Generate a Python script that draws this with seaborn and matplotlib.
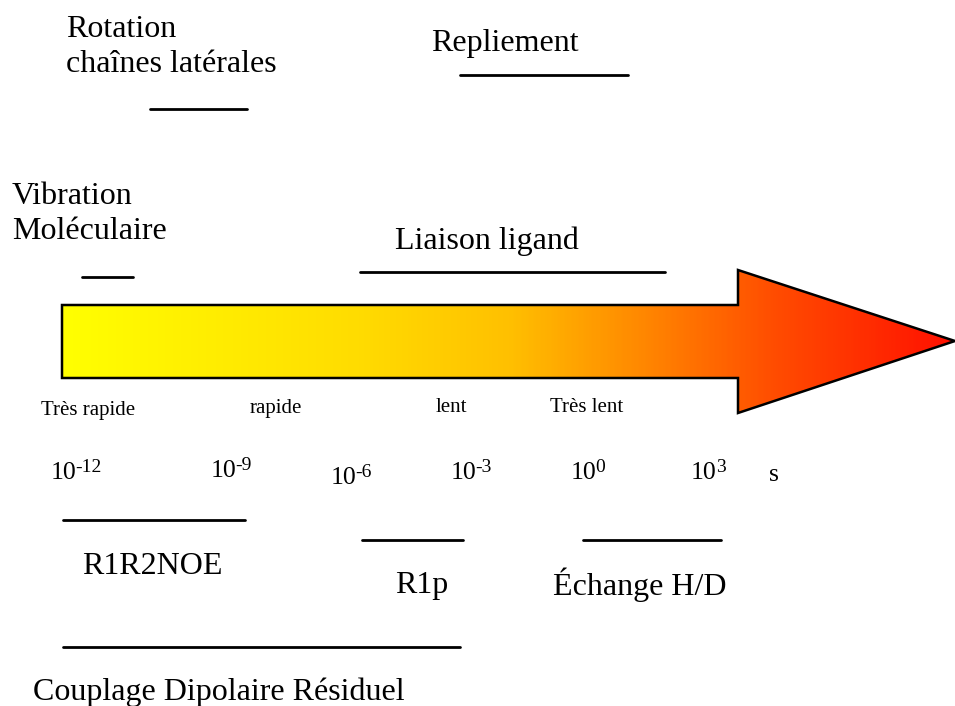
import numpy as np
import pandas as pd
import matplotlib
matplotlib.use("Agg")
import matplotlib.pyplot as plt
from matplotlib.patches import Polygon
from matplotlib.colors import LinearSegmentedColormap
import seaborn as sns

# page is laid out in pixel units (x to the right, y downwards)
W, H = 955, 706

# dynamic processes drawn above the arrow
proc_labels = ["Rotation\nchaînes latérales", "Repliement", "Vibration\nMoléculaire", "Liaison ligand"]
proc_x0 = [150, 460, 82, 360]
proc_x1 = [247, 628, 133, 665]
proc_line_y = [109, 75, 277, 272]
proc_text_x = [66, 431, 12, 395]
proc_text_y = [47, 43, 214, 241]

# NMR methods drawn below the arrow
meth_labels = ["R1R2NOE", "R1p", "Échange H/D", "Couplage Dipolaire Résiduel"]
meth_x0 = [63, 362, 583, 63]
meth_x1 = [245, 463, 721, 460]
meth_line_y = [520, 540, 540, 647]
meth_text_x = [82, 395, 553, 33]
meth_text_y = [566, 585, 585, 692]

# speed words under the arrow
speed_labels = ["Très rapide", "rapide", "lent", "Très lent"]
speed_x = [88, 276, 451, 587]
speed_y = [411, 408, 407, 407]

# time scale (base, exponent)
tick_base = ["10", "10", "10", "10", "10", "10", "s"]
tick_exp = ["-12", "-9", "-6", "-3", "0", "3", ""]
tick_x = [51, 211, 331, 451, 571, 691, 769]
tick_y = [479, 477, 484, 479, 479, 479, 481]

# arrow outline
arrow_x = [62, 738, 738, 955, 738, 738, 62]
arrow_y = [305, 305, 270, 341, 413, 378, 378]

sns.set_style("white")
plt.rcParams["font.family"] = ["Liberation Serif", "DejaVu Serif"]
plt.rcParams["text.color"] = "black"

fig = plt.figure(figsize=(9.55, 7.06), dpi=100)
ax = fig.add_axes([0, 0, 1, 1])

# gradient arrow
cmap = LinearSegmentedColormap.from_list(
    "heat", [(0.0, "#ffff00"), (0.33, "#ffdc00"), (0.5, "#ffc000"),
             (0.67, "#ff8000"), (0.8, "#ff4c00"), (1.0, "#ff1000")])
grad = np.linspace(0, 1, 400).reshape(1, -1)
xmin, xmax = min(arrow_x), max(arrow_x)
ymin, ymax = min(arrow_y), max(arrow_y)
img = ax.imshow(grad, cmap=cmap, extent=[xmin, xmax, ymax, ymin], aspect="auto", zorder=1)
poly = Polygon(np.column_stack([arrow_x, arrow_y]), closed=True, facecolor="none",
               edgecolor="black", linewidth=1.8, zorder=2)
ax.add_patch(poly)
img.set_clip_path(poly)

# range lines
segs = []
for lab, a, b, y in zip(proc_labels + meth_labels, proc_x0 + meth_x0,
                        proc_x1 + meth_x1, proc_line_y + meth_line_y):
    segs.append({"name": lab, "x": a, "y": y})
    segs.append({"name": lab, "x": b, "y": y})
df = pd.DataFrame(segs)
sns.lineplot(data=df, x="x", y="y", units="name", estimator=None, color="black",
             linewidth=2, ax=ax, legend=False, sort=False)
ax.set_xlim(0, W)
ax.set_ylim(H, 0)
ax.axis("off")

for lab, x, y in zip(proc_labels, proc_text_x, proc_text_y):
    ax.text(x, y, lab, fontsize=23, ha="left", va="center", linespacing=1.25)
for lab, x, y in zip(meth_labels, meth_text_x, meth_text_y):
    ax.text(x, y, lab, fontsize=23, ha="left", va="center")
for lab, x, y in zip(speed_labels, speed_x, speed_y):
    ax.text(x, y, lab, fontsize=15, ha="center", va="center")
for base, ex, x, y in zip(tick_base, tick_exp, tick_x, tick_y):
    t = ax.text(x, y, base, fontsize=18.5, ha="left", va="baseline")
    if ex:
        ax.annotate(ex, xy=(0.96, y - 7), xycoords=(t, "data"),
                    fontsize=14, ha="left", va="baseline")

fig.savefig("out.png", dpi=100)
